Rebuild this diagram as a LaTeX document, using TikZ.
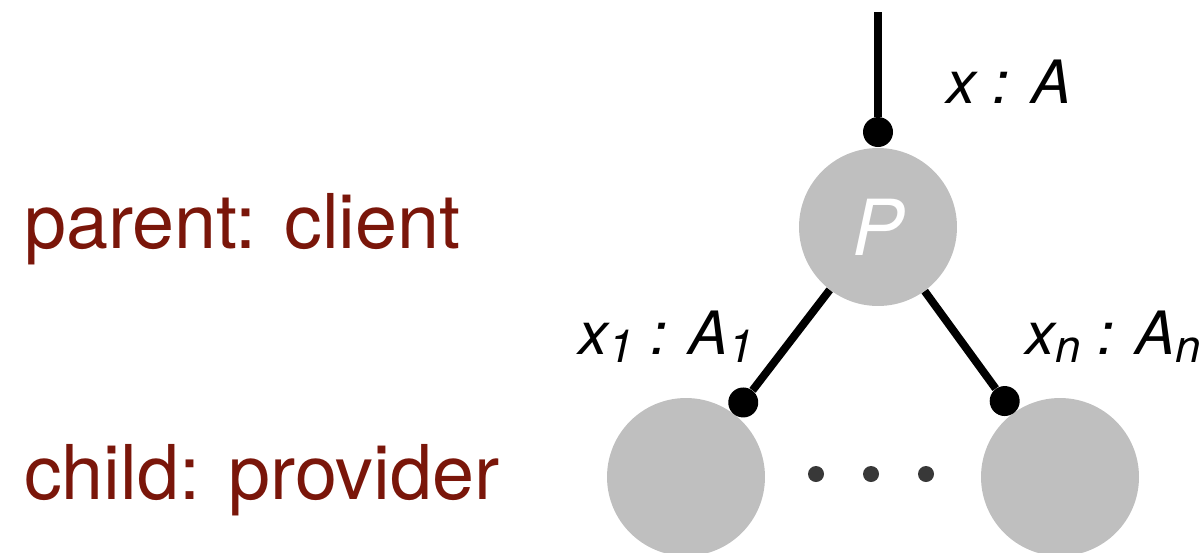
\documentclass[tikz,border=0pt]{standalone}
\usepackage{fontspec}
\setsansfont{TeX Gyre Heros}
\usetikzlibrary{calc}

\definecolor{rolered}{RGB}{122,22,10}
\definecolor{dotgray}{RGB}{56,56,56}

% lowered subscript for the channel labels
\newcommand{\chsub}[1]{\raisebox{-0.14em}{\fontsize{26}{26}\selectfont #1}}

\begin{document}
\begin{tikzpicture}[x=0.02cm,y=-0.02cm,
  proc/.style={circle,fill=black!25,minimum size=3.16cm,inner sep=0pt,
    font=\sffamily\itshape\fontsize{44}{44}\selectfont,text=white},
  ball/.style={circle,fill=black,minimum size=0.6cm,inner sep=0pt},
  wire/.style={line width=4.5pt},
  role/.style={anchor=base west,text=rolered,font=\sffamily\fontsize{43}{43}\selectfont},
  chan/.style={anchor=base west,font=\sffamily\itshape\fontsize{34}{34}\selectfont}]

  \useasboundingbox (0,0) rectangle (1203,552);

  \node[role] (parent) at (18,248) {parent: client};
  \node[role] (child) at (18,499) {child: provider};

  \node[proc] (P) at (878,227) {P};
  \node[proc] (c1) at (686,477) {};
  \node[proc] (cn) at (1060,477) {};

  \coordinate (top) at (878,12);
  \node[ball] (b0) at ($(P)!1.9cm!(top)$) {};
  \node[ball] (b1) at ($(c1)!1.88cm!(P)$) {};
  \node[ball] (bn) at ($(cn)!1.88cm!(P)$) {};

  \draw[wire] (top) -- (b0);
  \draw[wire] (P) -- (b1);
  \draw[wire] (P) -- (bn);

  \foreach \x/\n in {816/d1,871/d2,926/d3}
    \node[circle,fill=dotgray,minimum size=0.32cm,inner sep=0pt] (\n) at (\x,474) {};

  \node[chan] (lx) at (940,103) {x : A};
  \node[chan] (l1) at (572,354) {x\chsub{1} : A\chsub{1}};
  \node[chan] (ln) at (1019,354) {x\chsub{n} : A\chsub{n}};
\end{tikzpicture}
\end{document}
